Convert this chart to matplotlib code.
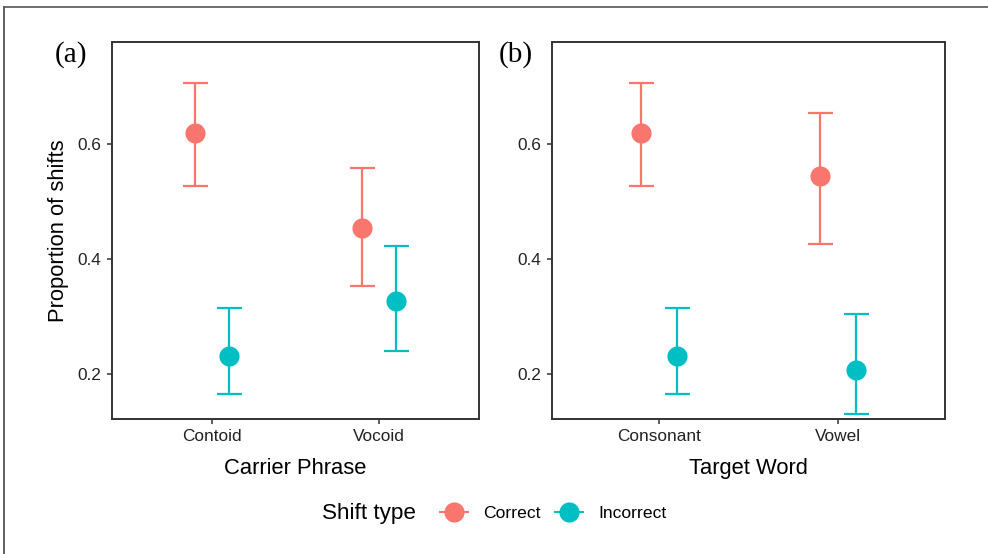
import matplotlib.pyplot as plt
from matplotlib.lines import Line2D
import numpy as np

plt.rcParams['font.family'] = ['Liberation Sans', 'DejaVu Sans']

# proportion of shifts with lower / upper interval limits
carrier = ['Contoid', 'Vocoid']
carrier_correct = [0.620, 0.454]
carrier_correct_lo = [0.527, 0.353]
carrier_correct_hi = [0.706, 0.558]
carrier_incorrect = [0.231, 0.327]
carrier_incorrect_lo = [0.165, 0.239]
carrier_incorrect_hi = [0.315, 0.422]

target = ['Consonant', 'Vowel']
target_correct = [0.620, 0.544]
target_correct_lo = [0.527, 0.426]
target_correct_hi = [0.706, 0.655]
target_incorrect = [0.231, 0.206]
target_incorrect_lo = [0.165, 0.129]
target_incorrect_hi = [0.315, 0.304]

shift_types = ['Correct', 'Incorrect']
colors = ['#F8766D', '#00BFC4']
yticks = [0.2, 0.4, 0.6]

fig = plt.figure(figsize=(9.88, 5.54), dpi=100)
ax_a = fig.add_axes([112 / 988, 1 - 419 / 554, 367 / 988, 377 / 554])
ax_b = fig.add_axes([552 / 988, 1 - 419 / 554, 393 / 988, 377 / 554])

panels = [
    (ax_a, carrier, 'Carrier Phrase', '(a)', 71,
     [(carrier_correct, carrier_correct_lo, carrier_correct_hi),
      (carrier_incorrect, carrier_incorrect_lo, carrier_incorrect_hi)]),
    (ax_b, target, 'Target Word', '(b)', 516,
     [(target_correct, target_correct_lo, target_correct_hi),
      (target_incorrect, target_incorrect_lo, target_incorrect_hi)]),
]

dodge = [-0.1, 0.1]
for ax, cats, xlabel, tag, tag_x, groups in panels:
    x = np.arange(1, len(cats) + 1)
    for (mid, lo, hi), off, col in zip(groups, dodge, colors):
        mid = np.array(mid)
        err = [mid - np.array(lo), np.array(hi) - mid]
        ax.errorbar(x + off, mid, yerr=err, fmt='none', ecolor=col,
                    elinewidth=1.6, capsize=9, capthick=1.6)
        ax.plot(x + off, mid, 'o', color=col, markersize=14.5,
                markeredgewidth=0)
    ax.set_xlim(0.4, 2.6)
    ax.set_ylim(0.121, 0.778)
    ax.set_xticks(x)
    ax.set_xticklabels(cats)
    ax.set_yticks(yticks)
    ax.set_yticklabels([f'{t:.1f}' for t in yticks])
    ax.tick_params(labelsize=12.4, colors='#333333', labelcolor='#222222',
                   length=3.5, width=1.1, pad=4)
    for s in ax.spines.values():
        s.set_color('#333333')
        s.set_linewidth(1.4)
    ax.set_xlabel(xlabel, fontsize=15.8, labelpad=10)
    fig.text(tag_x / 988, 1 - 55 / 554, tag,
             family=['Liberation Serif', 'DejaVu Serif'],
             fontsize=21, ha='center', va='center')

ax_a.set_ylabel('Proportion of shifts', fontsize=15.8, labelpad=6)

# legend row below the panels
fig.text(322 / 988, 1 - 513 / 554, 'Shift type', fontsize=16.2,
         ha='left', va='center')
handles = [Line2D([], [], color=c, marker='o', markersize=14.5,
                  markeredgewidth=0, lw=1.5) for c in colors]
fig.legend(handles, shift_types, loc='center left',
           bbox_to_anchor=(440 / 988, 1 - 513 / 554), ncol=2, frameon=False,
           fontsize=12.6, handlelength=1.6, handletextpad=0.85,
           columnspacing=0.85, borderpad=0, borderaxespad=0)

# outer frame (left and top edges only)
fig.add_artist(Line2D([4 / 988, 4 / 988], [0, 1 - 7 / 554], color='#444444',
                      lw=1.2, transform=fig.transFigure))
fig.add_artist(Line2D([4 / 988, 1], [1 - 7 / 554, 1 - 7 / 554], color='#555555',
                      lw=1.2, transform=fig.transFigure))

fig.savefig('out.png', dpi=100)
